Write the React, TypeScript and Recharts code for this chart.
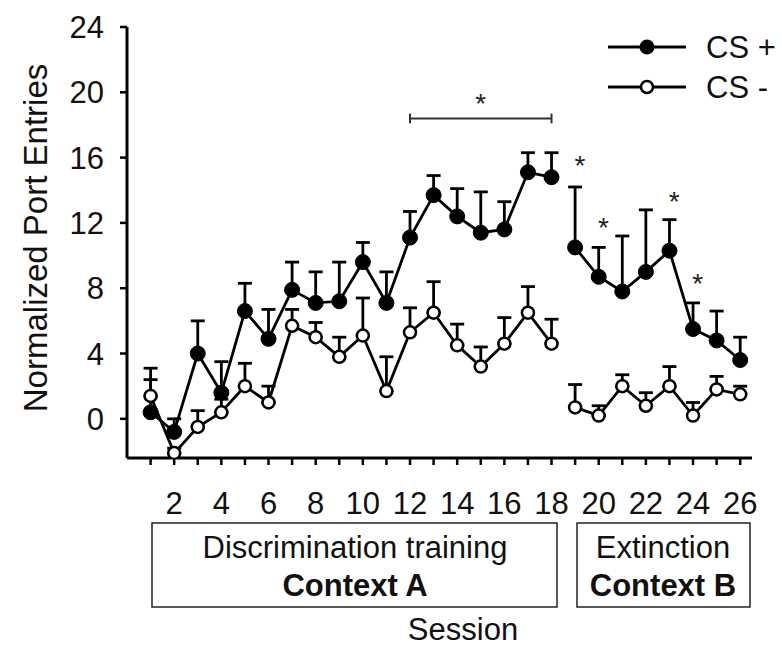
import React from 'react';
import {
  ComposedChart,
  Line,
  XAxis,
  YAxis,
  ErrorBar,
  ReferenceLine,
  ReferenceDot,
} from 'recharts';

const FONT = '"Liberation Sans", Arial, Helvetica, sans-serif';

// session numbers and group means / SEM (upper bars only)
const sessions = [1, 2, 3, 4, 5, 6, 7, 8, 9, 10, 11, 12, 13, 14, 15, 16, 17, 18, 19, 20, 21, 22, 23, 24, 25, 26];
const csPlus = [0.4, -0.8, 4.0, 1.6, 6.6, 4.9, 7.9, 7.1, 7.2, 9.6, 7.1, 11.1, 13.7, 12.4, 11.4, 11.6, 15.1, 14.8, 10.5, 8.7, 7.8, 9.0, 10.3, 5.5, 4.8, 3.6];
const csPlusSem = [2.0, 0.8, 2.0, 1.9, 1.7, 1.8, 1.7, 1.9, 2.4, 1.2, 1.9, 1.6, 1.2, 1.7, 2.5, 1.7, 1.2, 1.5, 3.7, 1.8, 3.4, 3.8, 1.9, 1.6, 1.8, 1.4];
const csMinus = [1.4, -2.1, -0.5, 0.4, 2.0, 1.0, 5.7, 5.0, 3.8, 5.1, 1.7, 5.3, 6.5, 4.5, 3.2, 4.6, 6.5, 4.6, 0.7, 0.2, 2.0, 0.8, 2.0, 0.2, 1.8, 1.5];
const csMinusSem = [1.7, 0.3, 1.0, 0.8, 1.4, 1.0, 1.0, 0.9, 1.2, 2.3, 2.1, 1.5, 1.9, 1.3, 1.2, 1.6, 1.6, 1.5, 1.4, 0.6, 0.7, 0.8, 1.2, 0.8, 0.8, 0.5];
const lastTrainingSession = 18;

const xTicks = sessions;
const yTicks = [0, 4, 8, 12, 16, 20, 24];

// significance marks
const starSessions = [15, 19.2, 20.2, 23.2, 24.2];
const starHeights = [19.7, 15.9, 12.1, 13.7, 8.7];
const bracketSessions = [12, 18];
const bracketHeight = 18.4;

const rows = sessions.map((s, i) => ({
  session: s,
  plus: csPlus[i],
  plusErr: [0, csPlusSem[i]],
  minus: csMinus[i],
  minusErr: [0, csMinusSem[i]],
}));
const training = rows.filter((r) => r.session <= lastTrainingSession);
const extinction = rows.filter((r) => r.session > lastTrainingSession);

const filledDot = { r: 7.5, fill: '#000', stroke: '#000', strokeWidth: 1 };
const openDot = { r: 6, fill: '#fff', stroke: '#000', strokeWidth: 2.5 };

const Star = (props: any) => (
  <text x={props.cx} y={props.cy + 16} textAnchor="middle" fontSize={28} fontFamily={FONT} fill="#222">
    *
  </text>
);

function series(data: any[], key: string, errKey: string, dot: any, id: string) {
  return (
    <Line
      key={id}
      data={data}
      dataKey={key}
      stroke="#000"
      strokeWidth={2.8}
      dot={dot}
      activeDot={false}
      isAnimationActive={false}
    >
      <ErrorBar dataKey={errKey} direction="y" width={7} stroke="#000" strokeWidth={2.8} />
    </Line>
  );
}

export default function App() {
  const tickStyle = { fontSize: 31, fill: '#111', fontFamily: FONT };
  return (
    <div style={{ position: 'absolute', left: 0, top: 0, width: 782, height: 647, background: '#fff' }}>
      <ComposedChart width={782} height={647} margin={{ top: 27, right: 30, left: 0, bottom: 129 }}>
        <XAxis
          type="number"
          dataKey="session"
          domain={[0, 26.5]}
          ticks={xTicks}
          interval={0}
          tickFormatter={(v: number) => (v % 2 === 0 ? String(v) : '')}
          axisLine={{ stroke: '#000', strokeWidth: 3 }}
          tickLine={{ stroke: '#000', strokeWidth: 2.5 }}
          tickSize={7}
          tickMargin={27}
          height={60}
          tick={tickStyle}
          allowDataOverflow
        />
        <YAxis
          type="number"
          domain={[-2.4, 24]}
          ticks={yTicks}
          interval={0}
          axisLine={{ stroke: '#000', strokeWidth: 3 }}
          tickLine={{ stroke: '#000', strokeWidth: 2.5 }}
          tickSize={7}
          tickMargin={16}
          width={127}
          tick={tickStyle}
          allowDataOverflow
        />
        <ReferenceLine
          segment={[{ x: bracketSessions[0], y: bracketHeight }, { x: bracketSessions[1], y: bracketHeight }]}
          stroke="#333"
          strokeWidth={2}
        />
        {bracketSessions.map((s) => (
          <ReferenceLine
            key={'cap' + s}
            segment={[{ x: s, y: bracketHeight - 0.3 }, { x: s, y: bracketHeight + 0.3 }]}
            stroke="#333"
            strokeWidth={2}
          />
        ))}
        {starSessions.map((s, i) => (
          <ReferenceDot key={'star' + i} x={s} y={starHeights[i]} r={0} shape={Star} />
        ))}
        {series(training, 'plus', 'plusErr', filledDot, 'p1')}
        {series(extinction, 'plus', 'plusErr', filledDot, 'p2')}
        {series(training, 'minus', 'minusErr', openDot, 'm1')}
        {series(extinction, 'minus', 'minusErr', openDot, 'm2')}
      </ComposedChart>
      <svg
        width={782}
        height={647}
        style={{ position: 'absolute', left: 0, top: 0, pointerEvents: 'none' }}
        fontFamily={FONT}
      >
        <text x={35} y={238} transform="rotate(-90 35 238)" textAnchor="middle" dominantBaseline="central" fontSize={33} fill="#111">
          Normalized Port Entries
        </text>
        <rect x={152} y={523} width={405} height={84} fill="none" stroke="#222" strokeWidth={1.5} />
        <text x={355} y={558} textAnchor="middle" fontSize={31} fill="#111">Discrimination training</text>
        <text x={355} y={596} textAnchor="middle" fontSize={31} fontWeight="bold" fill="#111">Context A</text>
        <rect x={577} y={523} width={173} height={84} fill="none" stroke="#222" strokeWidth={1.5} />
        <text x={663} y={558} textAnchor="middle" fontSize={31} fill="#111">Extinction</text>
        <text x={663} y={596} textAnchor="middle" fontSize={31} fontWeight="bold" fill="#111">Context B</text>
        <text x={463} y={640} textAnchor="middle" fontSize={31} fill="#111">Session</text>
        <line x1={608} y1={47} x2={686} y2={47} stroke="#000" strokeWidth={3} />
        <circle cx={647} cy={47} r={7.5} fill="#000" />
        <text x={706} y={47} dominantBaseline="central" fontSize={31} fill="#111">CS +</text>
        <line x1={608} y1={87} x2={686} y2={87} stroke="#000" strokeWidth={3} />
        <circle cx={647} cy={87} r={6} fill="#fff" stroke="#000" strokeWidth={2.5} />
        <text x={706} y={87} dominantBaseline="central" fontSize={31} fill="#111">CS -</text>
      </svg>
    </div>
  );
}
